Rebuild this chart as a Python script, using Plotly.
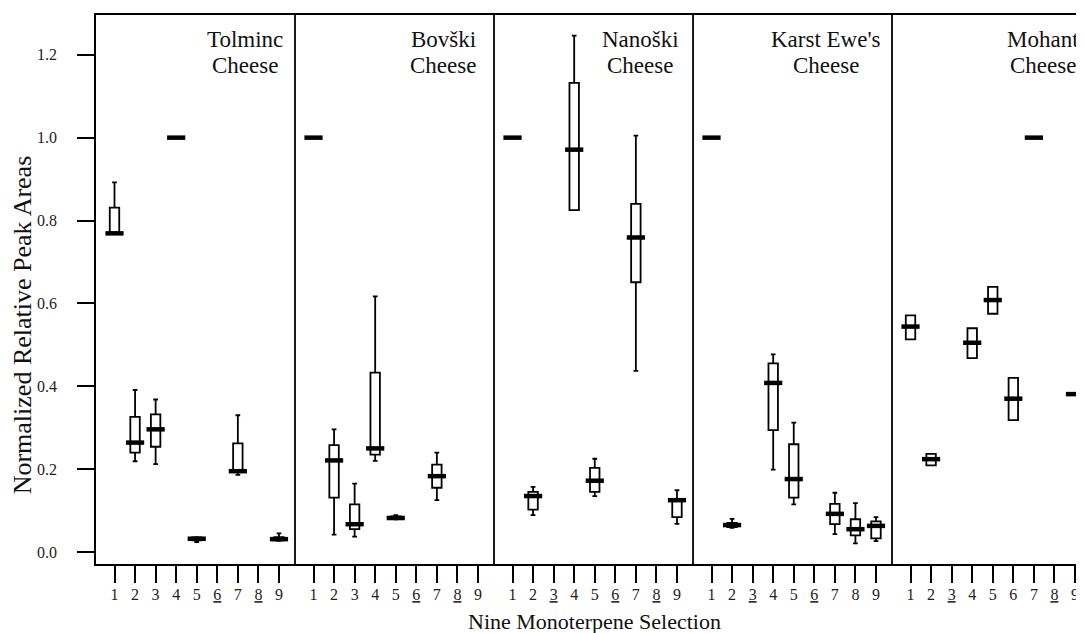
import plotly.graph_objects as go

# ---------------- data ----------------
cheese_line1 = ["Tolminc", "Bovški", "Nanoški", "Karst Ewe's", "Mohant"]
cheese_line2 = ["Cheese", "Cheese", "Cheese", "Cheese", "Cheese"]
compounds = ["1", "2", "3", "4", "5", "6", "7", "8", "9"]

# underlined tick labels per cheese panel
underlined = [
    ["6", "8"],
    ["6", "8"],
    ["3", "6", "8"],
    ["3", "6"],
    ["3", "8"],
]

tolminc_low  = [0.769, 0.219, 0.212, 1.0, 0.024, None, 0.186, None, 0.027]
tolminc_q1   = [0.769, 0.240, 0.254, 1.0, 0.028, None, 0.193, None, 0.028]
tolminc_med  = [0.769, 0.264, 0.296, 1.0, 0.032, None, 0.195, None, 0.031]
tolminc_q3   = [0.831, 0.326, 0.332, 1.0, 0.035, None, 0.262, None, 0.036]
tolminc_high = [0.892, 0.391, 0.368, 1.0, 0.036, None, 0.330, None, 0.045]

bovski_low  = [1.0, 0.042, 0.037, 0.220, 0.079, None, 0.125, None, None]
bovski_q1   = [1.0, 0.131, 0.055, 0.235, 0.080, None, 0.155, None, None]
bovski_med  = [1.0, 0.221, 0.067, 0.250, 0.082, None, 0.183, None, None]
bovski_q3   = [1.0, 0.258, 0.115, 0.433, 0.086, None, 0.211, None, None]
bovski_high = [1.0, 0.296, 0.165, 0.617, 0.089, None, 0.240, None, None]

nanoski_low  = [1.0, 0.089, None, 0.825, 0.135, None, 0.437, None, 0.068]
nanoski_q1   = [1.0, 0.102, None, 0.825, 0.145, None, 0.651, None, 0.084]
nanoski_med  = [1.0, 0.135, None, 0.971, 0.172, None, 0.759, None, 0.125]
nanoski_q3   = [1.0, 0.145, None, 1.132, 0.203, None, 0.840, None, 0.127]
nanoski_high = [1.0, 0.157, None, 1.246, 0.225, None, 1.005, None, 0.149]

karst_low  = [1.0, 0.058, None, 0.199, 0.115, None, 0.043, 0.021, 0.026]
karst_q1   = [1.0, 0.060, None, 0.294, 0.131, None, 0.067, 0.040, 0.033]
karst_med  = [1.0, 0.065, None, 0.408, 0.176, None, 0.092, 0.055, 0.063]
karst_q3   = [1.0, 0.070, None, 0.455, 0.260, None, 0.116, 0.079, 0.074]
karst_high = [1.0, 0.080, None, 0.477, 0.312, None, 0.143, 0.118, 0.084]

mohant_low  = [0.513, 0.209, None, 0.468, 0.575, 0.318, 1.0, None, 0.381]
mohant_q1   = [0.513, 0.209, None, 0.468, 0.575, 0.318, 1.0, None, 0.381]
mohant_med  = [0.544, 0.224, None, 0.505, 0.608, 0.370, 1.0, None, 0.381]
mohant_q3   = [0.571, 0.237, None, 0.540, 0.640, 0.420, 1.0, None, 0.381]
mohant_high = [0.571, 0.237, None, 0.540, 0.640, 0.420, 1.0, None, 0.381]

y_ticks = [0.0, 0.2, 0.4, 0.6, 0.8, 1.0, 1.2]

stats = [
    (tolminc_low, tolminc_q1, tolminc_med, tolminc_q3, tolminc_high),
    (bovski_low, bovski_q1, bovski_med, bovski_q3, bovski_high),
    (nanoski_low, nanoski_q1, nanoski_med, nanoski_q3, nanoski_high),
    (karst_low, karst_q1, karst_med, karst_q3, karst_high),
    (mohant_low, mohant_q1, mohant_med, mohant_q3, mohant_high),
]

# ---------------- layout geometry (in axis units) ----------------
PANEL_W = 9.68
OFFSET = 0.9
X_MAX = 48.35
SERIF = "Liberation Serif"
# distance of each panel title's centre from the panel's right edge (axis units)
TITLE_INSET = [2.43, 2.48, 2.57, 3.2, 2.33]

def pos(p, k):
    return p * PANEL_W + OFFSET + k

xs, lows, q1s, meds, q3s, highs = [], [], [], [], [], []
tickvals, ticktext = [], []
for p, (lo, a, m, b, hi) in enumerate(stats):
    for k, c in enumerate(compounds):
        tickvals.append(pos(p, k))
        if c in underlined[p]:
            ticktext.append('<span style="text-decoration:underline;'
                            'text-decoration-thickness:2px;'
                            'text-underline-offset:4px">' + c + '</span>')
        else:
            ticktext.append(c)
        if m[k] is None:
            continue
        xs.append(pos(p, k))
        lows.append(lo[k]); q1s.append(a[k]); meds.append(m[k])
        q3s.append(b[k]); highs.append(hi[k])

fig = go.Figure()
fig.add_trace(go.Box(
    x=xs, q1=q1s, median=meds, q3=q3s, lowerfence=lows, upperfence=highs,
    width=0.46, whiskerwidth=0.5, boxpoints=False,
    fillcolor="white", line=dict(color="black", width=1.8),
    showlegend=False, hoverinfo="skip",
))
# thick median bars
fig.add_trace(go.Scatter(
    x=xs, y=meds, mode="markers", showlegend=False, hoverinfo="skip",
    marker=dict(symbol="line-ew", size=13,
                line=dict(color="black", width=4.5)),
    cliponaxis=False,
))

shapes = []
for p in range(1, 5):
    shapes.append(dict(type="line", xref="x", yref="paper",
                       x0=p * PANEL_W, x1=p * PANEL_W, y0=0, y1=1,
                       line=dict(color="black", width=1.8)))

annotations = []
for p in range(5):
    cx = ((p + 1) * PANEL_W - TITLE_INSET[p]) / X_MAX
    for line, yy in ((cheese_line1[p], 0.955), (cheese_line2[p], 0.908)):
        annotations.append(dict(
            xref="paper", yref="paper", x=cx, y=yy,
            xanchor="center", yanchor="middle", showarrow=False,
            text=line, font=dict(family=SERIF, size=23, color="#111"),
        ))
annotations.append(dict(
    xref="paper", yref="paper", x=0.502, y=-0.104,
    xanchor="center", yanchor="middle", showarrow=False,
    text="Nine Monoterpene Selection",
    font=dict(family=SERIF, size=22, color="#111"),
))
annotations.append(dict(
    xref="paper", yref="paper", x=-0.0743, y=0.435,
    xanchor="center", yanchor="middle", showarrow=False, textangle=-90,
    text="Normalized Relative Peak Areas",
    font=dict(family=SERIF, size=26, color="#111"),
))

fig.update_layout(
    width=1084, height=633,
    margin=dict(l=88, r=0, t=7, b=77),
    paper_bgcolor="white", plot_bgcolor="white",
    shapes=shapes, annotations=annotations,
    xaxis=dict(range=[0, X_MAX], tickmode="array", tickvals=tickvals,
               ticktext=ticktext, ticks="outside", ticklen=17, tickwidth=1.6,
               tickcolor="black", showline=True, mirror=True,
               linecolor="black", linewidth=1.8, showgrid=False,
               zeroline=False, ticklabelstandoff=-2,
               tickfont=dict(family=SERIF, size=16, color="#222")),
    yaxis=dict(range=[-0.029, 1.296], tickmode="array", tickvals=y_ticks,
               tickformat=".1f", ticks="outside", ticklen=17, tickwidth=1.6,
               tickcolor="black", showline=True, mirror=True,
               linecolor="black", linewidth=1.8, showgrid=False,
               zeroline=False, ticklabelstandoff=17,
               tickfont=dict(family=SERIF, size=16, color="#222")),
)

fig.write_html("out.html")
